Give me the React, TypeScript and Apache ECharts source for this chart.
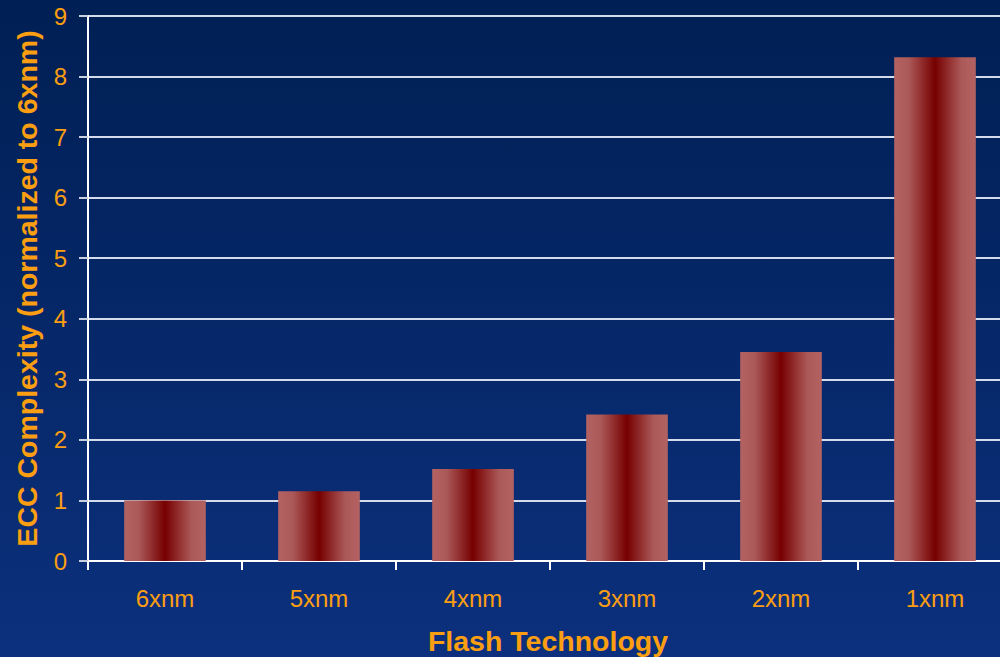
import React, { useEffect, useRef } from "react";
import * as echarts from "echarts";

const categories = ["6xnm", "5xnm", "4xnm", "3xnm", "2xnm", "1xnm"];
const values = [1.0, 1.15, 1.52, 2.42, 3.45, 8.32];
const yTicks = { min: 0, max: 9, interval: 1 };

const ORANGE = "#fb9e12";
const FONT = "Liberation Sans, Arial, sans-serif";

export default function App() {
  const ref = useRef<HTMLDivElement>(null);
  useEffect(() => {
    const chart = echarts.init(ref.current!, null, { renderer: "svg" });
    chart.setOption({
      animation: false,
      backgroundColor: new echarts.graphic.LinearGradient(0, 0, 0, 1, [
        { offset: 0, color: "#001f54" },
        { offset: 1, color: "#0c307d" },
      ]),
      grid: {
        left: 88,
        top: 16,
        width: 924,
        height: 545,
        outerBoundsMode: "none",
        containLabel: false,
      },
      xAxis: {
        type: "category",
        data: categories,
        name: "Flash Technology",
        nameLocation: "middle",
        nameGap: 80,
        nameTextStyle: { color: ORANGE, fontSize: 28.5, fontWeight: "bold", fontFamily: FONT, verticalAlign: "middle", padding: [0, 4, 0, 0] },
        axisLine: { lineStyle: { color: "#ffffff", width: 2 } },
        axisTick: { show: true, alignWithLabel: false, length: 9, lineStyle: { color: "#ffffff", width: 2 } },
        axisLabel: { color: ORANGE, fontSize: 24, margin: 25, fontFamily: FONT },
        splitLine: { show: false },
      },
      yAxis: {
        type: "value",
        min: yTicks.min,
        max: yTicks.max,
        interval: yTicks.interval,
        name: "ECC Complexity (normalized to 6xnm)",
        nameLocation: "middle",
        nameGap: 61,
        nameRotate: 90,
        nameTextStyle: { color: ORANGE, fontSize: 28.5, fontWeight: "bold", fontFamily: FONT, verticalAlign: "middle" },
        axisLine: { show: true, lineStyle: { color: "#ffffff", width: 2 } },
        axisTick: { show: true, inside: false, length: 9, lineStyle: { color: "#c8d0e0", width: 2 } },
        axisLabel: { color: ORANGE, fontSize: 24, margin: 21, fontFamily: FONT },
        splitLine: { show: true, lineStyle: { color: "#d4dbea", width: 2 } },
      },
      series: [
        {
          type: "bar",
          data: values,
          barWidth: "53%",
          itemStyle: {
            color: new echarts.graphic.LinearGradient(0, 0, 1, 0, [
              { offset: 0, color: "#b36262" },
              { offset: 0.18, color: "#ab5858" },
              { offset: 0.5, color: "#760000" },
              { offset: 0.82, color: "#ab5858" },
              { offset: 1, color: "#b36262" },
            ]),
          },
        },
      ],
    });
    return () => chart.dispose();
  }, []);
  return (
    <div
      ref={ref}
      style={{ position: "fixed", left: 0, top: 0, width: 1000, height: 657 }}
    />
  );
}
